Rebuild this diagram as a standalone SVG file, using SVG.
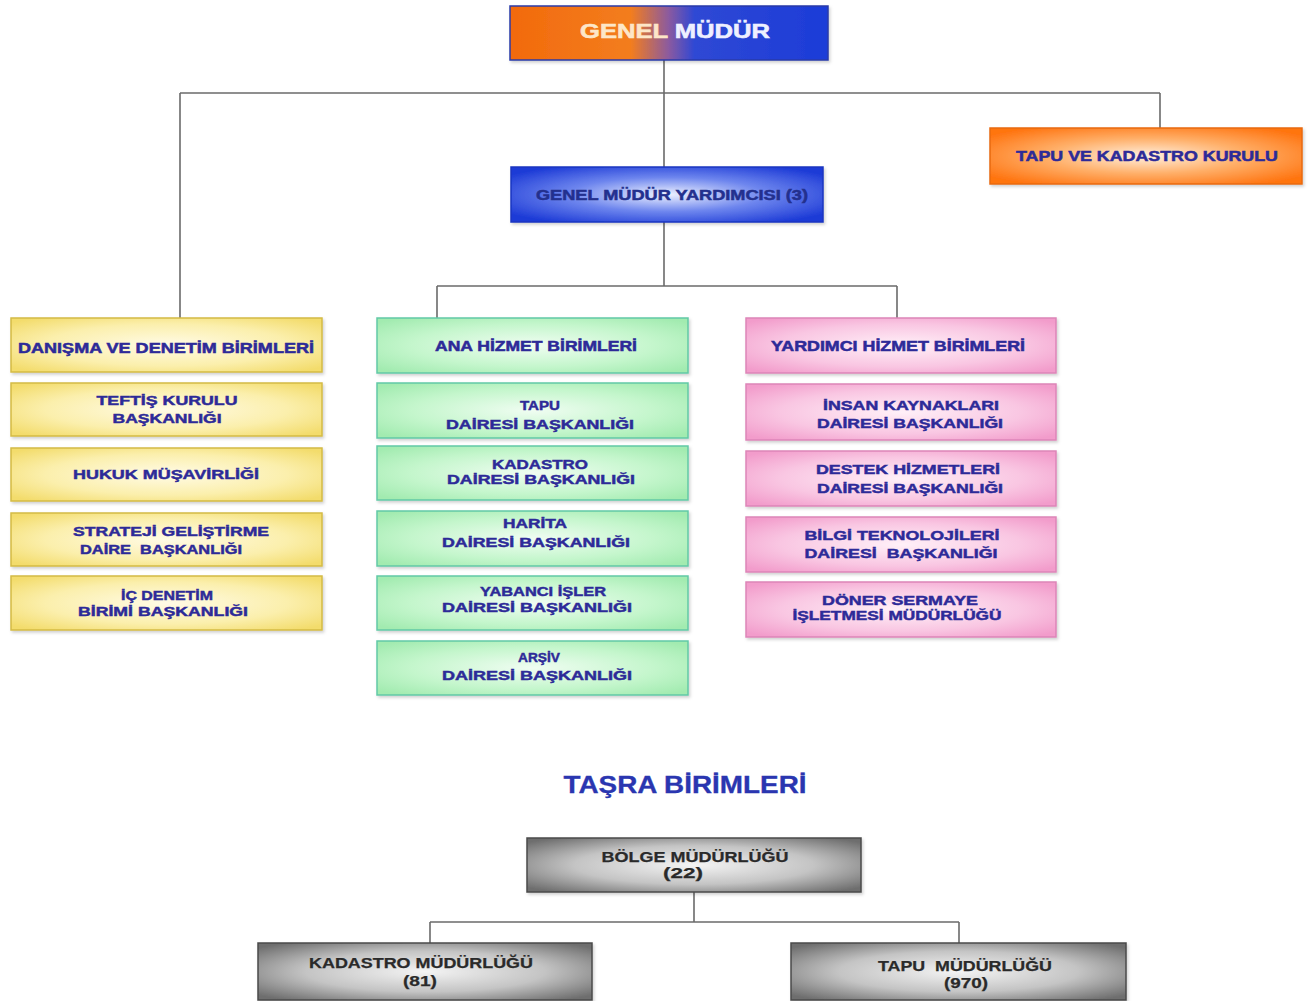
<svg xmlns="http://www.w3.org/2000/svg" width="1315" height="1001" viewBox="0 0 1315 1001">
<defs>
  <radialGradient id="gYellow" cx="0.5" cy="0.5" r="0.65">
    <stop offset="0" stop-color="#fffbe6"/>
    <stop offset="0.6" stop-color="#fbefac"/>
    <stop offset="1" stop-color="#f3dc6c"/>
  </radialGradient>
  <radialGradient id="gGreen" cx="0.5" cy="0.5" r="0.65">
    <stop offset="0" stop-color="#f0fdf2"/>
    <stop offset="0.6" stop-color="#c4f6cc"/>
    <stop offset="1" stop-color="#a2ebb0"/>
  </radialGradient>
  <radialGradient id="gPink" cx="0.5" cy="0.5" r="0.65">
    <stop offset="0" stop-color="#fff0f8"/>
    <stop offset="0.6" stop-color="#f9c6e2"/>
    <stop offset="1" stop-color="#f29ccb"/>
  </radialGradient>
  <radialGradient id="gOrange" cx="0.5" cy="0.5" r="0.62">
    <stop offset="0" stop-color="#fff0e0"/>
    <stop offset="0.5" stop-color="#ffb06a"/>
    <stop offset="1" stop-color="#ff7410"/>
  </radialGradient>
  <radialGradient id="gBlue" cx="0.5" cy="0.5" r="0.62">
    <stop offset="0" stop-color="#eef2ff"/>
    <stop offset="0.5" stop-color="#6e86ee"/>
    <stop offset="1" stop-color="#1c3ad6"/>
  </radialGradient>
  <radialGradient id="gGray" cx="0.5" cy="0.5" r="0.65">
    <stop offset="0" stop-color="#f4f4f4"/>
    <stop offset="0.55" stop-color="#c4c4c4"/>
    <stop offset="1" stop-color="#6e6e6e"/>
  </radialGradient>
  <linearGradient id="gTop" x1="0" y1="0" x2="1" y2="0">
    <stop offset="0" stop-color="#f26a0c"/>
    <stop offset="0.38" stop-color="#f37d1e"/>
    <stop offset="0.5" stop-color="#8a5aa0"/>
    <stop offset="0.58" stop-color="#2f48d4"/>
    <stop offset="1" stop-color="#1c3cd8"/>
  </linearGradient>
  <filter id="sh" x="-5%" y="-10%" width="110%" height="130%">
    <feDropShadow dx="1.5" dy="2" stdDeviation="1.5" flood-color="#000" flood-opacity="0.18"/>
  </filter>
</defs>
<style>
  .box { filter: url(#sh); stroke-width: 1.5; }
  .y { fill: url(#gYellow); stroke: #d4bb45; }
  .g { fill: url(#gGreen); stroke: #62c9a6; }
  .p { fill: url(#gPink); stroke: #dd85b8; }
  .o { fill: url(#gOrange); stroke: #e86a10; }
  .b { fill: url(#gBlue); stroke: #1a36c0; }
  .gr { fill: url(#gGray); stroke: #4a4a4a; }
  .tp { fill: url(#gTop); stroke: #2a3aa8; }
  text { font-family: "Liberation Sans", Arial, sans-serif; font-weight: bold; text-anchor: middle; }
  .t { font-size: 13px; fill: #2d2a98; stroke: #2d2a98; stroke-width: 0.45; }
  .th { font-size: 14px; fill: #2d2a98; stroke: #2d2a98; stroke-width: 0.5; }
  .thd { fill: #23308e; stroke: #23308e; }
  .tw { font-size: 21px; stroke-width: 0.6; }
  .tg { font-family: "Liberation Sans", Arial, sans-serif; font-size: 14px; fill: #2a2a2a; stroke: #2a2a2a; stroke-width: 0.25; }
  .ts { font-size: 23px; fill: #2a36b0; stroke: #2a36b0; stroke-width: 0.3; }
  .conn path { fill: none; stroke: #6a6a6a; stroke-width: 1.6; }
</style>
<rect x="0" y="0" width="1315" height="1001" fill="#ffffff"/>

<g id="connectors" class="conn">
  <path d="M664 60 V167"/>
  <path d="M180 93 H1160"/>
  <path d="M180 93 V318"/>
  <path d="M1160 93 V128"/>
  <path d="M664 222 V286"/>
  <path d="M437 286 H897"/>
  <path d="M437 286 V318"/>
  <path d="M897 286 V318"/>
  <path d="M694 892 V922"/>
  <path d="M430 922 H959"/>
  <path d="M430 922 V943"/>
  <path d="M959 922 V943"/>
</g>

<g id="genel-mudur">
  <rect class="box tp" x="510" y="6" width="318" height="54"/>
  <text class="tw" x="675" y="38" textLength="190" lengthAdjust="spacingAndGlyphs"><tspan fill="#fde6c8" stroke="#fde6c8">GENEL </tspan><tspan fill="#eef0ff" stroke="#eef0ff">MÜDÜR</tspan></text>
</g>

<g id="tapu-kadastro-kurulu">
  <rect class="box o" x="990" y="128" width="312" height="56"/>
  <text class="th" x="1147" y="161" textLength="262" lengthAdjust="spacingAndGlyphs">TAPU VE KADASTRO KURULU</text>
</g>

<g id="genel-mudur-yardimcisi">
  <rect class="box b" x="511" y="167" width="312" height="55"/>
  <text class="th thd" x="672" y="200" textLength="272" lengthAdjust="spacingAndGlyphs">GENEL MÜDÜR YARDIMCISI (3)</text>
</g>

<!-- Left column -->
<g id="danisma">
  <rect class="box y" x="11" y="318" width="311" height="54"/>
  <text class="th" x="166" y="353" textLength="296" lengthAdjust="spacingAndGlyphs">DANIŞMA VE DENETİM BİRİMLERİ</text>
</g>
<g id="teftis">
  <rect class="box y" x="11" y="383" width="311" height="53"/>
  <text class="t" x="167" y="405" textLength="141" lengthAdjust="spacingAndGlyphs">TEFTİŞ KURULU</text>
  <text class="t" x="167" y="423" textLength="109" lengthAdjust="spacingAndGlyphs">BAŞKANLIĞI</text>
</g>
<g id="hukuk">
  <rect class="box y" x="11" y="448" width="311" height="53"/>
  <text class="t" x="166" y="479" textLength="186" lengthAdjust="spacingAndGlyphs">HUKUK MÜŞAVİRLİĞİ</text>
</g>
<g id="strateji">
  <rect class="box y" x="11" y="513" width="311" height="53"/>
  <text class="t" x="171" y="536" textLength="196" lengthAdjust="spacingAndGlyphs">STRATEJİ GELİŞTİRME</text>
  <text class="t" x="161" y="554" textLength="162" lengthAdjust="spacingAndGlyphs" xml:space="preserve">DAİRE  BAŞKANLIĞI</text>
</g>
<g id="ic-denetim">
  <rect class="box y" x="11" y="576" width="311" height="54"/>
  <text class="t" x="167" y="600" textLength="92" lengthAdjust="spacingAndGlyphs">İÇ DENETİM</text>
  <text class="t" x="163" y="616" textLength="170" lengthAdjust="spacingAndGlyphs">BİRİMİ BAŞKANLIĞI</text>
</g>

<!-- Middle column -->
<g id="ana-hizmet">
  <rect class="box g" x="377" y="318" width="311" height="55"/>
  <text class="th" x="536" y="351" textLength="202" lengthAdjust="spacingAndGlyphs">ANA HİZMET BİRİMLERİ</text>
</g>
<g id="tapu-daire">
  <rect class="box g" x="377" y="383" width="311" height="55"/>
  <text class="t" x="540" y="410" textLength="40" lengthAdjust="spacingAndGlyphs">TAPU</text>
  <text class="t" x="540" y="429" textLength="188" lengthAdjust="spacingAndGlyphs">DAİRESİ BAŞKANLIĞI</text>
</g>
<g id="kadastro-daire">
  <rect class="box g" x="377" y="446" width="311" height="54"/>
  <text class="t" x="540" y="469" textLength="96" lengthAdjust="spacingAndGlyphs">KADASTRO</text>
  <text class="t" x="541" y="484" textLength="188" lengthAdjust="spacingAndGlyphs">DAİRESİ BAŞKANLIĞI</text>
</g>
<g id="harita-daire">
  <rect class="box g" x="377" y="511" width="311" height="55"/>
  <text class="t" x="535" y="528" textLength="64" lengthAdjust="spacingAndGlyphs">HARİTA</text>
  <text class="t" x="536" y="547" textLength="188" lengthAdjust="spacingAndGlyphs">DAİRESİ BAŞKANLIĞI</text>
</g>
<g id="yabanci-isler">
  <rect class="box g" x="377" y="576" width="311" height="54"/>
  <text class="t" x="543" y="596" textLength="126" lengthAdjust="spacingAndGlyphs">YABANCI İŞLER</text>
  <text class="t" x="537" y="612" textLength="190" lengthAdjust="spacingAndGlyphs">DAİRESİ BAŞKANLIĞI</text>
</g>
<g id="arsiv-daire">
  <rect class="box g" x="377" y="641" width="311" height="54"/>
  <text class="t" x="539" y="662" textLength="42" lengthAdjust="spacingAndGlyphs">ARŞİV</text>
  <text class="t" x="537" y="680" textLength="190" lengthAdjust="spacingAndGlyphs">DAİRESİ BAŞKANLIĞI</text>
</g>

<!-- Right column -->
<g id="yardimci-hizmet">
  <rect class="box p" x="746" y="318" width="310" height="55"/>
  <text class="th" x="898" y="351" textLength="254" lengthAdjust="spacingAndGlyphs">YARDIMCI HİZMET BİRİMLERİ</text>
</g>
<g id="insan-kaynaklari">
  <rect class="box p" x="746" y="384" width="310" height="56"/>
  <text class="t" x="911" y="410" textLength="176" lengthAdjust="spacingAndGlyphs">İNSAN KAYNAKLARI</text>
  <text class="t" x="910" y="428" textLength="186" lengthAdjust="spacingAndGlyphs">DAİRESİ BAŞKANLIĞI</text>
</g>
<g id="destek-hizmetleri">
  <rect class="box p" x="746" y="451" width="310" height="55"/>
  <text class="t" x="908" y="474" textLength="184" lengthAdjust="spacingAndGlyphs">DESTEK HİZMETLERİ</text>
  <text class="t" x="910" y="493" textLength="186" lengthAdjust="spacingAndGlyphs">DAİRESİ BAŞKANLIĞI</text>
</g>
<g id="bilgi-teknolojileri">
  <rect class="box p" x="746" y="517" width="310" height="55"/>
  <text class="t" x="902" y="540" textLength="195" lengthAdjust="spacingAndGlyphs">BİLGİ TEKNOLOJİLERİ</text>
  <text class="t" x="901" y="558" textLength="193" lengthAdjust="spacingAndGlyphs" xml:space="preserve">DAİRESİ  BAŞKANLIĞI</text>
</g>
<g id="doner-sermaye">
  <rect class="box p" x="746" y="582" width="310" height="55"/>
  <text class="t" x="900" y="605" textLength="156" lengthAdjust="spacingAndGlyphs">DÖNER SERMAYE</text>
  <text class="t" x="897" y="620" textLength="209" lengthAdjust="spacingAndGlyphs">İŞLETMESİ MÜDÜRLÜĞÜ</text>
</g>

<!-- Taşra -->
<text id="tasra-title" class="ts" x="685" y="793" textLength="243" lengthAdjust="spacingAndGlyphs">TAŞRA BİRİMLERİ</text>

<g id="bolge-mudurlugu">
  <rect class="box gr" x="527" y="838" width="334" height="54"/>
  <text class="tg" x="695" y="862" textLength="187" lengthAdjust="spacingAndGlyphs">BÖLGE MÜDÜRLÜĞÜ</text>
  <text class="tg" x="683" y="878" textLength="40" lengthAdjust="spacingAndGlyphs">(22)</text>
</g>
<g id="kadastro-mudurlugu">
  <rect class="box gr" x="258" y="943" width="334" height="57"/>
  <text class="tg" x="421" y="968" textLength="224" lengthAdjust="spacingAndGlyphs">KADASTRO MÜDÜRLÜĞÜ</text>
  <text class="tg" x="420" y="986" textLength="34" lengthAdjust="spacingAndGlyphs">(81)</text>
</g>
<g id="tapu-mudurlugu">
  <rect class="box gr" x="791" y="943" width="335" height="57"/>
  <text class="tg" x="965" y="971" textLength="174" lengthAdjust="spacingAndGlyphs" xml:space="preserve">TAPU  MÜDÜRLÜĞÜ</text>
  <text class="tg" x="966" y="988" textLength="44" lengthAdjust="spacingAndGlyphs">(970)</text>
</g>
</svg>
